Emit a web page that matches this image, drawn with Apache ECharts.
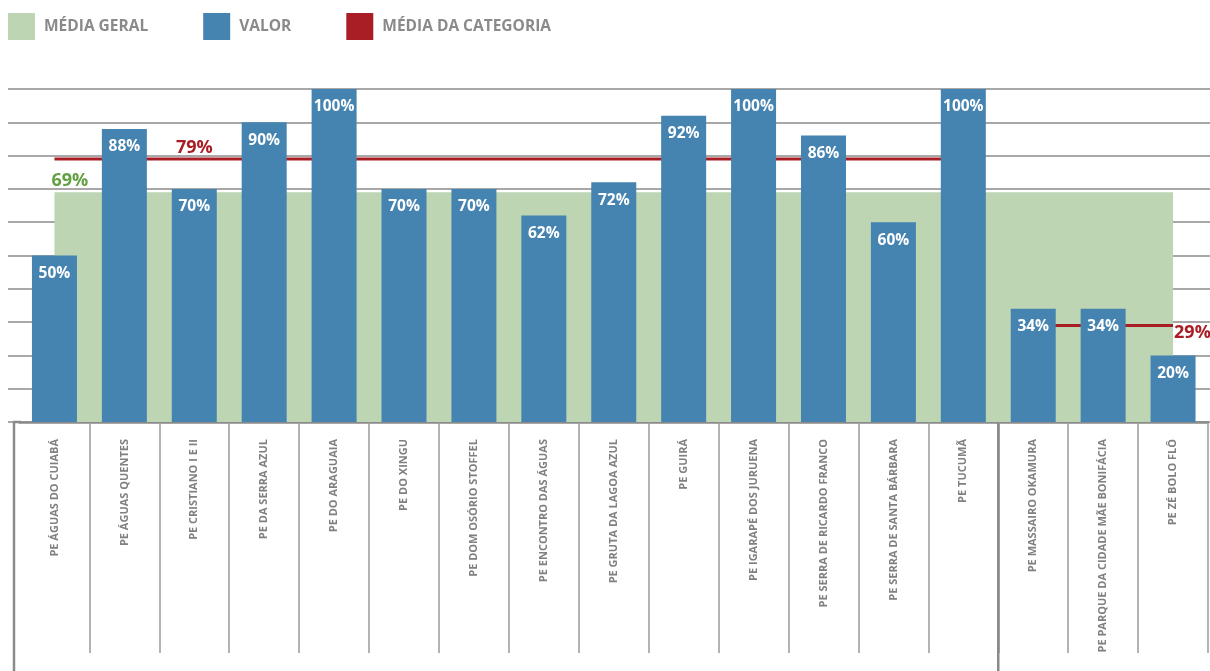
<!DOCTYPE html>
<html>
<head>
<meta charset="utf-8">
<script src="https://cdn.jsdelivr.net/npm/echarts@6/dist/echarts.min.js"></script>
<style>
html,body{margin:0;padding:0;background:#fff;}
#chart{width:1210px;height:671px;}
</style>
</head>
<body>
<div id="chart"></div>
<script>
// ---- data ----
const categories = [
  'PE ÁGUAS DO CUIABÁ','PE ÁGUAS QUENTES','PE CRISTIANO I E II','PE DA SERRA AZUL',
  'PE DO ARAGUAIA','PE DO XINGU','PE DOM OSÓRIO STOFFEL','PE ENCONTRO DAS ÁGUAS',
  'PE GRUTA DA LAGOA AZUL','PE GUIRÁ','PE IGARAPÉ DOS JURUENA','PE SERRA DE RICARDO FRANCO',
  'PE SERRA DE SANTA BÁRBARA','PE TUCUMÃ','PE MASSAIRO OKAMURA',
  'PE PARQUE DA CIDADE MÃE BONIFÁCIA','PE ZÉ BOLO FLÔ'
];
const valores = [50,88,70,90,100,70,70,62,72,92,100,86,60,100,34,34,20];
const mediaGeral = 69;
const groupA = 14;          // first category group size
const mediaCatA = 79;
const mediaCatB = 29;
const yTicks = {min:0, max:100, interval:10};

const FONT = '"Open Sans", "Noto Sans", sans-serif';
const GREEN = '#bdd5b3', BLUE = '#4583b0', RED = '#a91d24', GREY = '#8a8a8a';

const labelPoint = (value, lbl) => ({value, symbol:'circle', symbolSize:0.01,
  label:Object.assign({show:true, formatter:'{c}%', fontSize:18, fontWeight:'bold', fontFamily:FONT}, lbl)});

const geralData = categories.map((c,i) => i === 0
  ? labelPoint(mediaGeral, {position:'top', align:'left', offset:[-3,3], color:'#62a043'})
  : mediaGeral);
const catAData = categories.map((c,i) => {
  if (i >= groupA) return null;
  if (i === 2) return labelPoint(mediaCatA, {position:'top', offset:[0,3], color:RED});
  return mediaCatA;
});
const catBData = categories.map((c,i) => {
  if (i < groupA) return null;
  if (i === categories.length-1) return labelPoint(mediaCatB, {position:'right', offset:[-4,7], color:RED});
  return mediaCatB;
});

const chart = echarts.init(document.getElementById('chart'));
const option = {
  animation:false,
  textStyle:{fontFamily:FONT},
  legend:{
    left:8, top:13, padding:0, itemWidth:27, itemHeight:27, itemGap:55,
    textStyle:{fontSize:15.5, fontWeight:'bold', color:GREY, fontFamily:FONT, padding:[4,0,0,4]},
    data:[{name:'MÉDIA GERAL', icon:'rect'},{name:'VALOR', icon:'rect'},{name:'MÉDIA DA CATEGORIA', icon:'rect'}]
  },
  grid:[
    {left:19.5, right:2, top:89, bottom:249, outerBoundsMode:'none', containLabel:false},
    {left:8, right:0, top:89, bottom:249, outerBoundsMode:'none', containLabel:false}
  ],
  xAxis:[
    {type:'category', gridIndex:0, data:categories, boundaryGap:true,
     axisLine:{show:true, lineStyle:{color:GREY, width:2.5}},
     axisTick:{show:true, length:231, interval:(idx)=> idx !== 0, lineStyle:{color:'#9a9a9a', width:1.5}},
     axisLabel:{interval:0, rotate:90, margin:17, color:'#808080', fontSize:11, fontWeight:'bold', fontFamily:FONT}
    },
    {type:'category', gridIndex:1, data:categories, show:false}
  ],
  yAxis:[
    {type:'value', gridIndex:0, min:yTicks.min, max:yTicks.max, interval:yTicks.interval,
     axisLabel:{show:false}, axisLine:{show:false}, axisTick:{show:false}, splitLine:{show:false}},
    {type:'value', gridIndex:1, min:yTicks.min, max:yTicks.max, interval:yTicks.interval,
     axisLabel:{show:false}, axisLine:{show:false}, axisTick:{show:false},
     splitLine:{show:true, lineStyle:{color:'#a8a8a8', width:2}}}
  ],
  series:[
    {name:'MÉDIA GERAL', type:'line', data:geralData, z:1,
     symbol:'none', itemStyle:{color:GREEN}, lineStyle:{width:0, color:GREEN},
     areaStyle:{color:GREEN, opacity:1}},
    {name:'MÉDIA DA CATEGORIA', type:'line', data:catAData, z:2, symbol:'none', connectNulls:false,
     itemStyle:{color:RED}, lineStyle:{color:RED, width:3}},
    {name:'MÉDIA DA CATEGORIA', type:'line', data:catBData, z:2, symbol:'none', connectNulls:false,
     itemStyle:{color:RED}, lineStyle:{color:RED, width:3}},
    {name:'VALOR', type:'bar', data:valores, barWidth:45, z:3,
     itemStyle:{color:BLUE},
     label:{show:true, position:'insideTop', distance:10, formatter:'{c}%', color:'#fff',
       fontSize:15.5, fontWeight:'bold', fontFamily:FONT}}
  ]
};
chart.setOption(option);

// frame decorations (layout only), positioned from the axis scale
const axisY = chart.convertToPixel({yAxisIndex:0}, 0);
const c13 = chart.convertToPixel({xAxisIndex:0}, groupA-1);
const c14 = chart.convertToPixel({xAxisIndex:0}, groupA);
const divX = (c13 + c14) / 2;
chart.setOption({
  graphic:[
    {type:'line', shape:{x1:14, y1:axisY-1, x2:14, y2:671}, style:{stroke:GREY, lineWidth:2.5}, z:10},
    {type:'line', shape:{x1:13, y1:axisY, x2:21, y2:axisY}, style:{stroke:GREY, lineWidth:2.5}, z:10},
    {type:'line', shape:{x1:divX, y1:axisY, x2:divX, y2:671}, style:{stroke:GREY, lineWidth:2.5}, z:10}
  ]
});
</script>
</body>
</html>
